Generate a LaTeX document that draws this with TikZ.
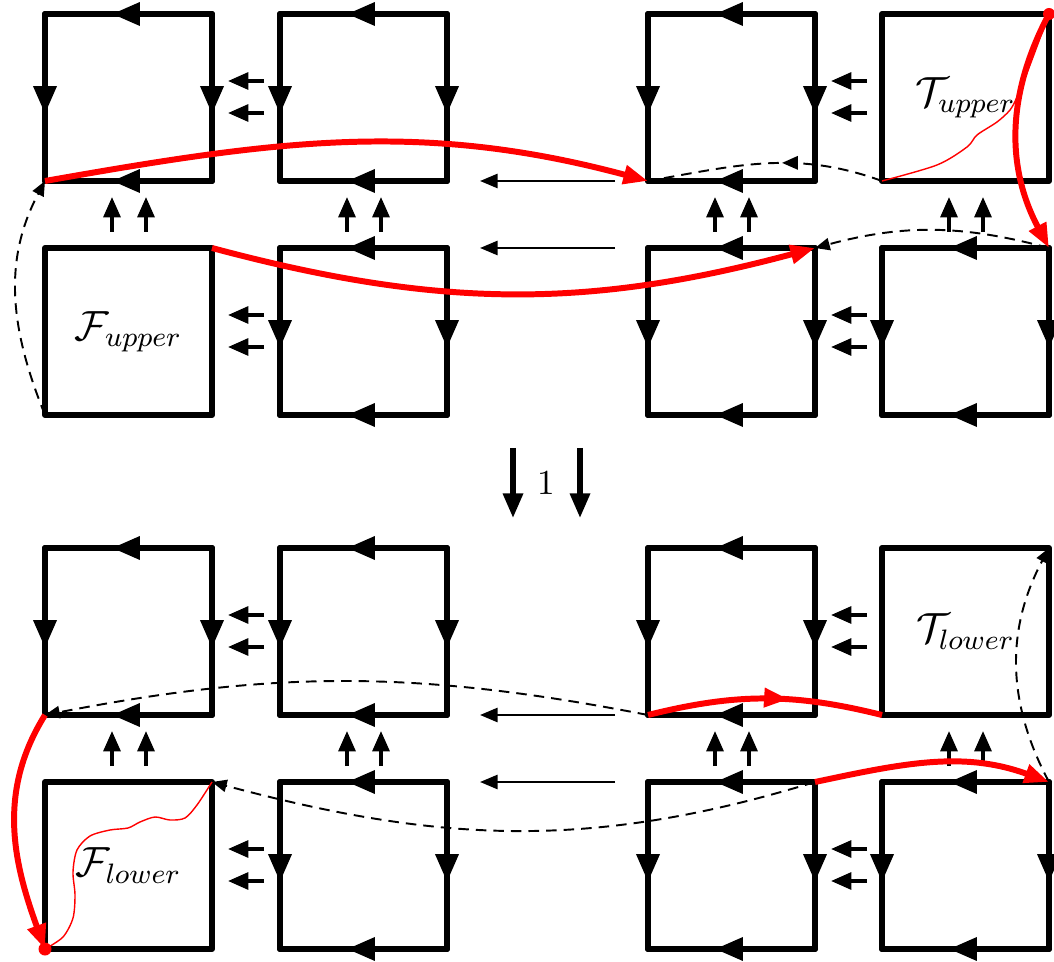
\documentclass[tikz,border=0pt]{standalone}
\usetikzlibrary{arrows.meta,decorations.markings}

\tikzset{
  cell/.style={minimum size=1.67cm, inner sep=0pt, outer sep=0pt},
  plain/.style={cell, draw, line width=1.7pt, line join=round},
  side/.style={line width=1.7pt, line cap=round, postaction={decorate},
    decoration={markings, mark=at position 0.6 with {\arrow{Triangle[length=8pt,width=6.3pt]}}}},
  tick/.style={line width=1pt, -{Triangle[length=5.8pt,width=4.8pt]}},
  longarrow/.style={line width=0.7pt, -{Triangle[length=5pt,width=4pt]}},
  bigarrow/.style={line width=1.5pt, -{Triangle[length=7pt,width=5.5pt]}},
  redpath/.style={red, line width=1.7pt, -{Triangle[length=7pt,width=5.2pt]}},
  redmid/.style={red, line width=1.7pt, postaction={decorate},
    decoration={markings, mark=at position 0.6 with {\arrow{Triangle[length=7pt,width=5.2pt]}}}},
  dashpath/.style={line width=0.55pt, dash pattern=on 3pt off 2pt, -{Triangle[length=4.2pt,width=3.5pt]}},
  dashmid/.style={line width=0.55pt, dash pattern=on 3pt off 2pt, postaction={decorate},
    decoration={markings, mark=at position 0.43 with {\arrow{Triangle[length=4.5pt,width=3.8pt]}}}},
  wavy/.style={red, line width=0.4pt}
}

\begin{document}
\begin{tikzpicture}
  \useasboundingbox (0,0) rectangle (10.54,9.61);

  % upper configuration
  \node[cell] (U1) at (1.285,8.635) {};
  \node[cell] (U2) at (3.635,8.635) {};
  \node[cell] (U3) at (7.315,8.635) {};
  \node[plain] (Tu) at (9.655,8.635) {\large $\mathcal{T}_{upper}$};
  \node[plain] (Fu) at (1.285,6.295) {\large $\mathcal{F}_{upper}$};
  \node[cell] (U6) at (3.635,6.295) {};
  \node[cell] (U7) at (7.315,6.295) {};
  \node[cell] (U8) at (9.655,6.295) {};

  % lower configuration
  \node[cell] (L1) at (1.285,3.295) {};
  \node[cell] (L2) at (3.635,3.295) {};
  \node[cell] (L3) at (7.315,3.295) {};
  \node[plain] (Tl) at (9.655,3.295) {\large $\mathcal{T}_{lower}$};
  \node[plain] (Fl) at (1.285,0.955) {\large $\mathcal{F}_{lower}$};
  \node[cell] (L6) at (3.635,0.955) {};
  \node[cell] (L7) at (7.315,0.955) {};
  \node[cell] (L8) at (9.655,0.955) {};

  \node (one) at (5.46,4.78) {$1$};

  \foreach \s in {U1,U2,U3,U6,U7,U8,L1,L2,L3,L6,L7,L8} {
    \draw[side] (\s.north east) -- (\s.north west);
    \draw[side] (\s.north west) -- (\s.south west);
    \draw[side] (\s.north east) -- (\s.south east);
    \draw[side] (\s.south east) -- (\s.south west);
  }

  % small arrows between the cells
  \foreach \s in {U1,Fu,U3,U7,L1,Fl,L3,L7} {
    \draw[tick] ([shift={(0.52,-0.67)}]\s.north east) -- ++(-0.36,0);
    \draw[tick] ([shift={(0.52,-0.99)}]\s.north east) -- ++(-0.36,0);
  }
  \foreach \s in {U1,U2,U3,Tu,L1,L2,L3,Tl} {
    \draw[tick] ([shift={(0.67,-0.51)}]\s.south west) -- ++(0,0.35);
    \draw[tick] ([shift={(1.01,-0.51)}]\s.south west) -- ++(0,0.35);
  }

  \draw[longarrow] ([xshift=-0.33cm]U3.south west) -- ([xshift=0.33cm]U2.south east);
  \draw[longarrow] ([xshift=-0.33cm]U7.north west) -- ([xshift=0.33cm]U6.north east);
  \draw[longarrow] ([xshift=-0.33cm]L3.south west) -- ([xshift=0.33cm]L2.south east);
  \draw[longarrow] ([xshift=-0.33cm]L7.north west) -- ([xshift=0.33cm]L6.north east);

  \draw[bigarrow] ([shift={(-0.33,0.35)}]one.center) -- ++(0,-0.70);
  \draw[bigarrow] ([shift={(0.34,0.35)}]one.center) -- ++(0,-0.70);

  % paths, upper
  \draw[dashpath] (Fu.south west) to[out=112,in=-118] (U1.south west);
  \draw[dashmid] (Tu.south west) to[out=160,in=10] (U3.south west);
  \draw[dashpath] (U8.north east) to[out=165,in=15] (U7.north east);
  \draw[wavy] plot[smooth] coordinates {(Tu.south west) (9.37,7.96) (9.67,8.14)
    (9.77,8.26) (9.97,8.39) (10.10,8.51) (10.17,8.64) (10.27,8.88) (Tu.north east)};
  \draw[redpath] (U1.south west) to[out=10,in=165] (U3.south west);
  \draw[redpath] (Fu.north east) to[out=-15,in=195] (U7.north east);
  \draw[redpath] (Tu.north east) to[out=-118,in=118] (U8.north east);
  \fill[red] (Tu.north east) circle (0.06);

  % paths, lower
  \draw[dashpath] (L3.south west) to[out=169,in=11] (L1.south west);
  \draw[dashpath] (L7.north east) to[out=197,in=-15] (Fl.north east);
  \draw[dashpath] (L8.north east) to[out=118,in=-118] (Tl.north east);
  \draw[wavy] plot[smooth] coordinates {(Fl.south west) (0.63,0.24) (0.73,0.43)
    (0.75,0.66) (0.73,0.89) (0.77,1.11) (0.90,1.25) (1.10,1.31) (1.28,1.33)
    (1.40,1.39) (1.55,1.44) (1.70,1.41) (1.85,1.43) (1.97,1.56) (Fl.north east)};
  \draw[redmid] (L3.south west) to[out=14,in=166] (Tl.south west);
  \draw[redpath] (L1.south west) to[out=-122,in=110] (Fl.south west);
  \draw[redpath] (L7.north east) to[out=12,in=160] (L8.north east);
  \fill[red] (Fl.south west) circle (0.065);
\end{tikzpicture}
\end{document}
